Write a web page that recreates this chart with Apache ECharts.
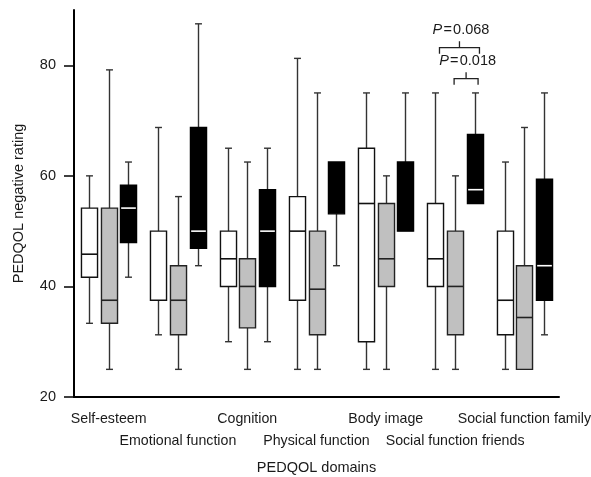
<!DOCTYPE html>
<html>
<head>
<meta charset="utf-8">
<script src="https://cdn.jsdelivr.net/npm/echarts@6/dist/echarts.min.js"></script>
<style>html,body{margin:0;padding:0;background:#fff}#c{width:591px;height:477px}</style>
</head>
<body>
<div id="c"></div>
<script>
// Categories
const domains = ['Self-esteem','Emotional function','Cognition','Physical function','Body image','Social function friends','Social function family'];
// Box values per group: [min, q1, median, q3, max]
const whiteBoxes = [
  [33.33, 41.67, 45.83, 54.17, 60],
  [31.25, 37.5, 50, 50, 68.75],
  [30, 40, 45, 50, 65],
  [25, 37.5, 50, 56.25, 81.25],
  [25, 30, 55, 65, 75],
  [25, 40, 45, 55, 75],
  [25, 31.25, 37.5, 50, 62.5]
];
const grayBoxes = [
  [25, 33.33, 37.5, 54.17, 79.17],
  [25, 31.25, 37.5, 43.75, 56.25],
  [25, 32.5, 40, 45, 62.5],
  [25, 31.25, 39.5, 50, 75],
  [25, 40, 45, 55, 60],
  [25, 31.25, 40, 50, 60],
  [25, 25, 34.38, 43.75, 68.75]
];
const blackBoxes = [
  [41.67, 47.92, 54.17, 58.33, 62.5],
  [43.75, 46.88, 50, 68.75, 87.5],
  [30, 40, 50, 57.5, 65],
  [43.75, 53.13, 62.5, 62.5, 62.5],
  [50, 50, 50, 62.5, 75],
  [55, 55, 57.5, 67.5, 75],
  [31.25, 37.5, 43.75, 59.38, 75]
];
// Y ticks
const yTicks = [20, 40, 60, 80];
// Significance annotations: [categoryIndex, bracketLevel, pValue]
const annotations = [
  [5, 83.2, '0.068'],
  [5, 77.6, '0.018']
];

const FONT = '"Liberation Sans", Arial, Helvetica, sans-serif';
const FS = 14.5;

function toData(arr) { return arr.map((b, i) => [i].concat(b)); }

function boxRender(slot, fill, stroke, medColor) {
  return function (params, api) {
    const ci = api.value(0);
    const band = api.size([1, 0])[0];
    const off = (slot - 1) * band * 0.283;
    const hw = band * 0.116;
    const capHw = band * 0.05;
    const cx = Math.round(api.coord([ci, 0])[0] + off) + 0.5;
    const y = k => api.coord([ci, api.value(k)])[1];
    const yMin = y(1), yQ1 = y(2), yMed = y(3), yQ3 = y(4), yMax = y(5);
    const wStyle = { stroke: '#333', lineWidth: 1.4 };
    const ch = [];
    if (yMax < yQ3 - 0.5) {
      ch.push({ type: 'line', shape: { x1: cx, y1: yMax, x2: cx, y2: yQ3 }, style: wStyle });
      ch.push({ type: 'line', shape: { x1: cx - capHw, y1: yMax, x2: cx + capHw, y2: yMax }, style: wStyle });
    }
    if (yMin > yQ1 + 0.5) {
      ch.push({ type: 'line', shape: { x1: cx, y1: yQ1, x2: cx, y2: yMin }, style: wStyle });
      ch.push({ type: 'line', shape: { x1: cx - capHw, y1: yMin, x2: cx + capHw, y2: yMin }, style: wStyle });
    }
    ch.push({ type: 'rect', shape: { x: cx - hw, y: yQ3, width: 2 * hw, height: yQ1 - yQ3 }, style: { fill: fill } });
    if (yMed > yQ3 + 1 && yMed < yQ1 - 1) {
      ch.push({ type: 'line', shape: { x1: cx - hw, y1: yMed, x2: cx + hw, y2: yMed }, style: { stroke: medColor, lineWidth: 1.6 } });
    }
    ch.push({ type: 'rect', shape: { x: cx - hw, y: yQ3, width: 2 * hw, height: yQ1 - yQ3 }, style: { fill: 'none', stroke: stroke, lineWidth: 1.4 } });
    return { type: 'group', children: ch };
  };
}

function annRender(params, api) {
  const ci = api.value(0);
  const lvl = api.value(1);
  const band = api.size([1, 0])[0];
  const c0 = api.coord([ci, lvl]);
  const idx = params.dataIndex;
  // bracket extents relative to category centre (fraction of band)
  const ext = idx === 0 ? [-0.225, 0.352] : [-0.014, 0.332];
  const x1 = c0[0] + ext[0] * band, x2 = c0[0] + ext[1] * band;
  const xm = (x1 + x2) / 2;
  const yb = c0[1];
  const legDown = api.coord([ci, lvl - 1.1])[1];
  const tickUp = api.coord([ci, lvl + 1.15])[1];
  const textY = api.coord([ci, lvl + 3.1])[1];
  const st = { stroke: '#222', lineWidth: 1.3 };
  const pv = String(api.value(2));
  return {
    type: 'group',
    children: [
      { type: 'polyline', shape: { points: [[x1, legDown], [x1, yb], [x2, yb], [x2, legDown]] }, style: Object.assign({ fill: 'none' }, st) },
      { type: 'line', shape: { x1: xm, y1: yb, x2: xm, y2: tickUp }, style: st },
      { type: 'text', x: xm + 1.5, y: textY, style: {
          text: '{i|P}\u200A=\u200A' + pv,
          rich: { i: { fontStyle: 'italic', fontSize: FS, fontFamily: FONT, fill: '#1a1a1a' } },
          fontSize: FS, fontFamily: FONT, fill: '#1a1a1a', align: 'center', verticalAlign: 'middle'
        } }
    ]
  };
}

const chart = echarts.init(document.getElementById('c'), null, { renderer: 'canvas' });
chart.setOption({
  animation: false,
  backgroundColor: '#fff',
  grid: { left: 74, right: 32, top: 10, bottom: 80, containLabel: false, outerBoundsMode: 'none' },
  xAxis: {
    type: 'category',
    data: domains,
    boundaryGap: true,
    name: 'PEDQOL domains',
    nameLocation: 'middle',
    nameGap: 63,
    nameTextStyle: { fontSize: FS, fontFamily: FONT, color: '#1a1a1a' },
    axisLine: { lineStyle: { color: '#000', width: 2 } },
    axisTick: { alignWithLabel: true, length: 7, lineStyle: { color: '#000', width: 1.5 } },
    axisLabel: {
      interval: 0,
      margin: 11,
      fontSize: 14.2,
      lineHeight: 22,
      fontFamily: FONT,
      color: '#1a1a1a',
      formatter: (v, i) => (i % 2 ? '\n' + v : v)
    },
    splitLine: { show: false }
  },
  yAxis: {
    type: 'value',
    min: 20,
    max: 90,
    interval: 10,
    name: 'PEDQOL negative rating',
    nameLocation: 'middle',
    nameGap: 48,
    nameTextStyle: { fontSize: FS, fontFamily: FONT, color: '#1a1a1a' },
    axisLine: { show: true, lineStyle: { color: '#000', width: 2 } },
    axisTick: { show: true, length: 10, customValues: yTicks, lineStyle: { color: '#000', width: 1.5 } },
    axisLabel: { margin: 18, fontSize: FS, fontFamily: FONT, color: '#1a1a1a', customValues: yTicks },
    splitLine: { show: false }
  },
  series: [
    { type: 'custom', name: 'white', data: toData(whiteBoxes), encode: { x: 0, y: [1, 2, 3, 4, 5] }, renderItem: boxRender(0, '#ffffff', '#111', '#111'), z: 2 },
    { type: 'custom', name: 'gray', data: toData(grayBoxes), encode: { x: 0, y: [1, 2, 3, 4, 5] }, renderItem: boxRender(1, '#c0c0c0', '#222', '#222'), z: 2 },
    { type: 'custom', name: 'black', data: toData(blackBoxes), encode: { x: 0, y: [1, 2, 3, 4, 5] }, renderItem: boxRender(2, '#000000', '#000', '#ffffff'), z: 2 },
    { type: 'custom', name: 'ann', data: annotations, encode: { x: 0, y: 1 }, renderItem: annRender, z: 3 }
  ]
});
</script>
</body>
</html>
